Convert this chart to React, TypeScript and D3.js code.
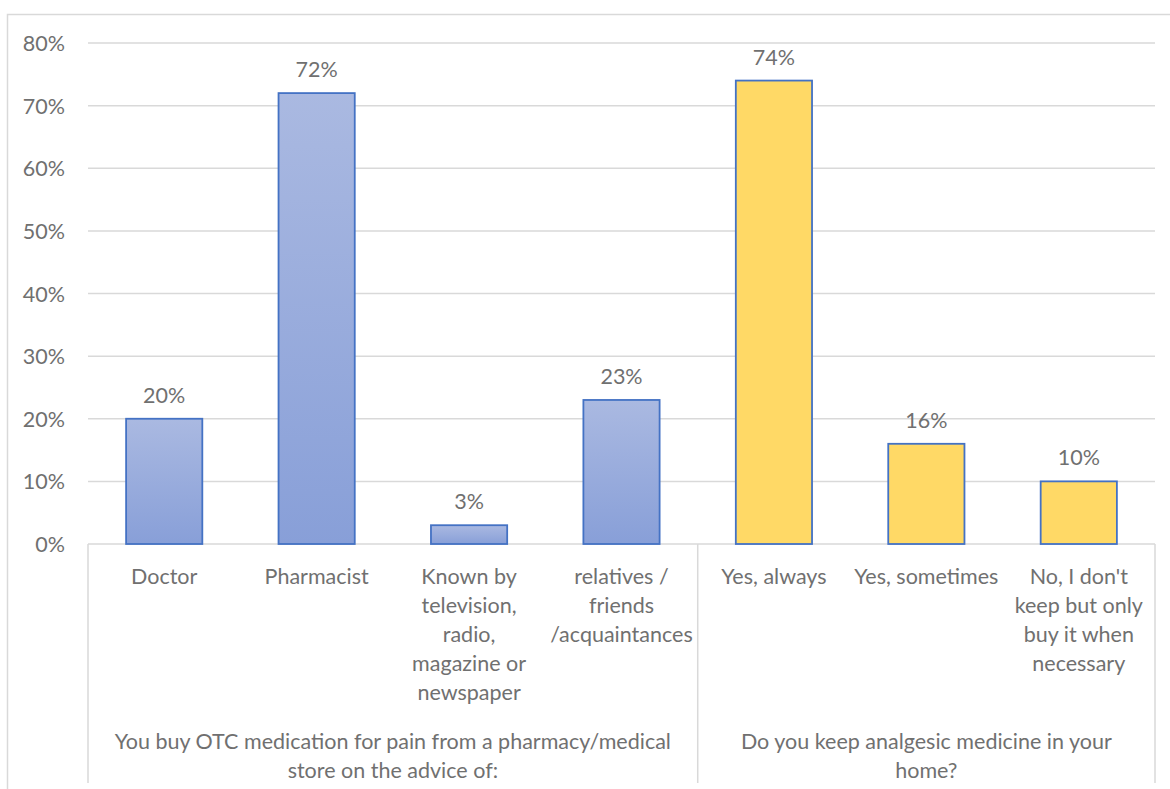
import * as d3 from "d3";

const categories = [
  "Doctor",
  "Pharmacist",
  "Known by\ntelevision,\nradio,\nmagazine or\nnewspaper",
  "relatives /\nfriends\n/acquaintances",
  "Yes, always",
  "Yes, sometimes",
  "No, I don't\nkeep but only\nbuy it when\nnecessary",
];
const values = [20, 72, 3, 23, 74, 16, 10];
const seriesOf = ["otc", "otc", "otc", "otc", "home", "home", "home"];
const groupLabels = [
  "You buy OTC medication for pain from a pharmacy/medical\nstore on the advice of:",
  "Do you keep analgesic medicine in your\nhome?",
];
const groupSizes = [4, 3];
const yTicks = [0, 10, 20, 30, 40, 50, 60, 70, 80];

const W = 1170;
const H = 789;
const left = 88;
const right = 1155;
const top = 43;
const bottom = 544;
const axisEnd = 783;
const font = "Lato, 'Open Sans', sans-serif";
const fontSize = 21.5;
const textColor = "#707070";
const grid = "#d9d9d9";

export default function App() {
  const x = d3
    .scaleBand()
    .domain(categories)
    .range([left, right])
    .paddingInner(0.5)
    .paddingOuter(0.25);
  const y = d3.scaleLinear().domain([0, 80]).range([bottom, top]);
  const step = x.step();

  // group boundaries along the category axis
  const bounds = [left];
  let acc = 0;
  groupSizes.forEach((n) => {
    acc += n;
    bounds.push(left + step * acc);
  });

  return (
    <svg
      width={W}
      height={H}
      style={{ position: "absolute", left: 0, top: 0, background: "#fff" }}
    >
      <defs>
        <linearGradient id="blueGrad" x1="0" y1="0" x2="0" y2="1">
          <stop offset="0%" stopColor="#aab9e1" />
          <stop offset="100%" stopColor="#889fd8" />
        </linearGradient>
      </defs>
      <rect
        x={7.5}
        y={14.5}
        width={W}
        height={H}
        fill="#fff"
        stroke={grid}
        strokeWidth={1.5}
      />
      {yTicks.map((t) => (
        <g key={t}>
          <line
            x1={left}
            x2={right}
            y1={y(t)}
            y2={y(t)}
            stroke={grid}
            strokeWidth={1.5}
          />
          <text
            x={65}
            y={y(t)}
            textAnchor="end"
            dominantBaseline="central"
            fontFamily={font}
            fontSize={fontSize}
            fill={textColor}
          >
            {t}%
          </text>
        </g>
      ))}
      {bounds.map((b, i) => (
        <line
          key={i}
          x1={b}
          x2={b}
          y1={bottom}
          y2={axisEnd}
          stroke={grid}
          strokeWidth={1.5}
        />
      ))}
      {categories.map((c, i) => {
        const bx = x(c)!;
        const cx = bx + x.bandwidth() / 2;
        return (
          <g key={c}>
            <rect
              x={bx}
              y={y(values[i])}
              width={x.bandwidth()}
              height={y(0) - y(values[i])}
              fill={seriesOf[i] === "otc" ? "url(#blueGrad)" : "#ffd966"}
              stroke="#4472c4"
              strokeWidth={1.8}
            />
            <text
              x={cx}
              y={y(values[i]) - 24}
              textAnchor="middle"
              dominantBaseline="central"
              fontFamily={font}
              fontSize={fontSize}
              fill={textColor}
            >
              {values[i]}%
            </text>
            {c.split("\n").map((line, j) => (
              <text
                key={j}
                x={left + step * (i + 0.5)}
                y={576 + j * 29}
                textAnchor="middle"
                dominantBaseline="central"
                fontFamily={font}
                fontSize={fontSize}
                fill={textColor}
              >
                {line}
              </text>
            ))}
          </g>
        );
      })}
      {groupLabels.map((g, i) =>
        g.split("\n").map((line, j) => (
          <text
            key={`${i}-${j}`}
            x={(bounds[i] + bounds[i + 1]) / 2}
            y={741 + j * 29}
            textAnchor="middle"
            dominantBaseline="central"
            fontFamily={font}
            fontSize={fontSize}
            fill={textColor}
          >
            {line}
          </text>
        ))
      )}
    </svg>
  );
}
